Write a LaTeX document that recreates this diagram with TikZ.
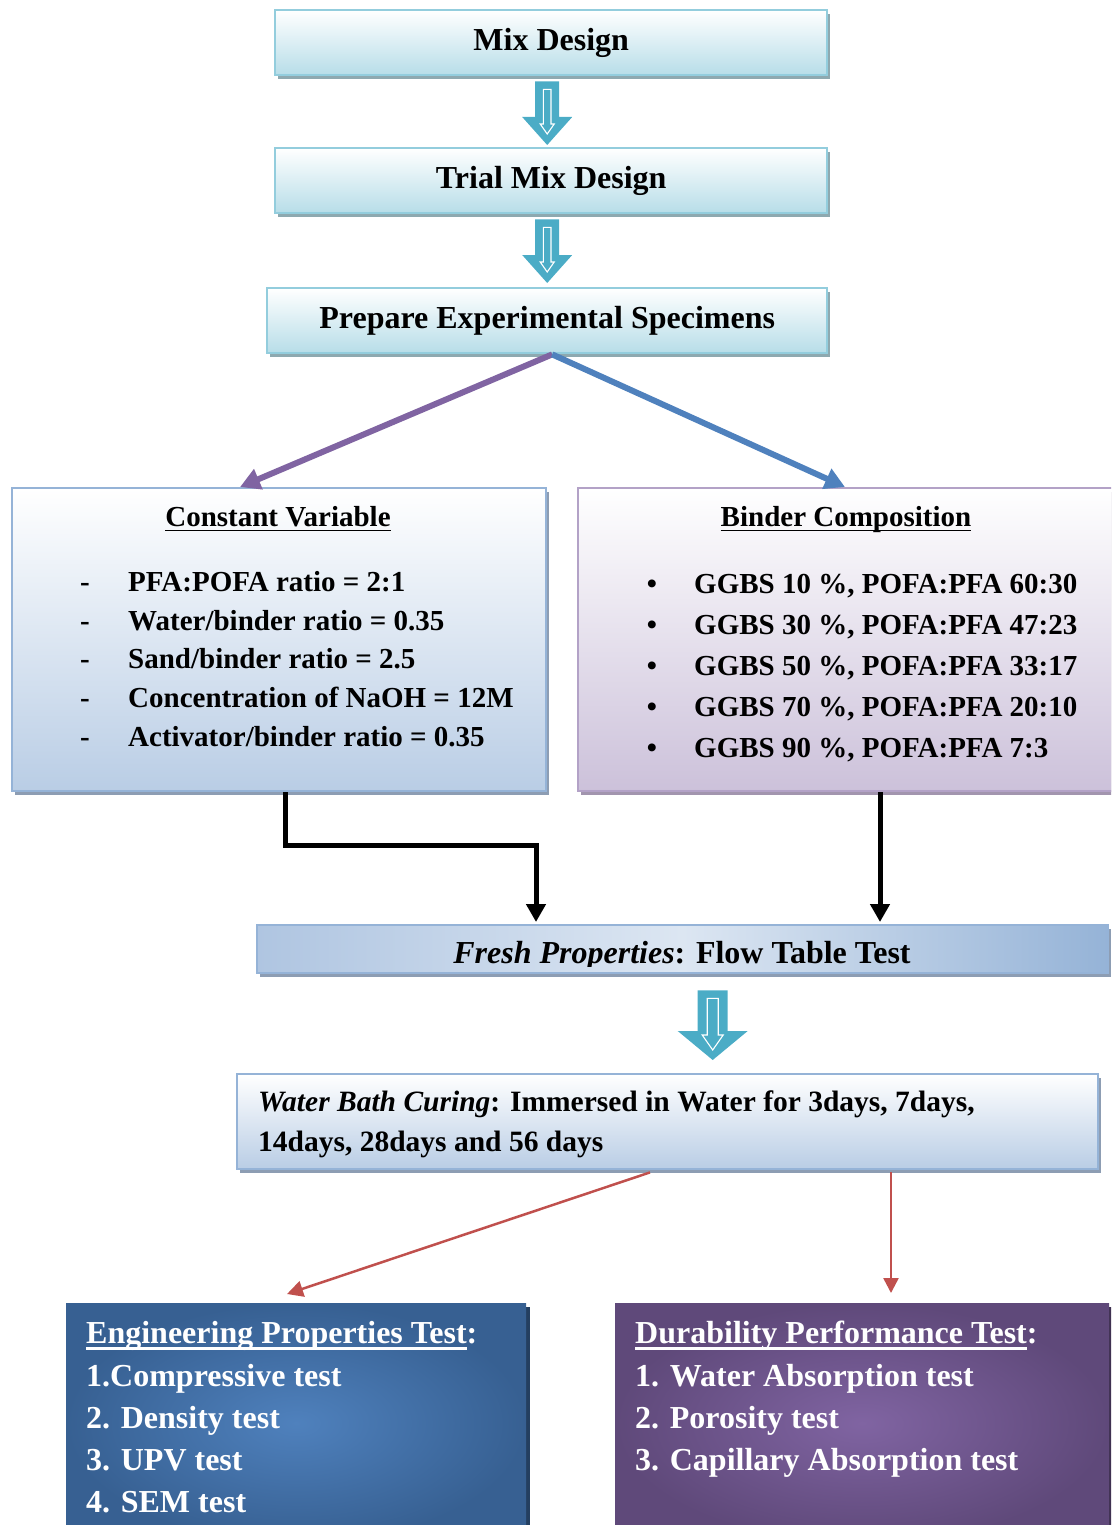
\documentclass[tikz,border=0pt]{standalone}
\usepackage{fontspec}
\setmainfont{Liberation Serif}
\usetikzlibrary{calc,shadows,arrows.meta}

\definecolor{tealline}{HTML}{93CDDD}
\definecolor{tealfill}{HTML}{B7DDE8}
\definecolor{tealshadow}{HTML}{8EA9B0}
\definecolor{blueline}{HTML}{95B3D7}
\definecolor{bluefill}{HTML}{B9CDE5}
\definecolor{blueshadow}{HTML}{8D9DB3}
\definecolor{lilacline}{HTML}{B3A2C7}
\definecolor{lilacfill}{HTML}{CCC1DA}
\definecolor{lilacshadow}{HTML}{A295AE}
\definecolor{arrowteal}{HTML}{4BACC6}
\definecolor{linkpurple}{HTML}{8064A2}
\definecolor{linkblue}{HTML}{4F81BD}
\definecolor{linkred}{HTML}{C0504D}
\definecolor{engedge}{HTML}{376092}
\definecolor{engmid}{HTML}{4F81BD}
\definecolor{engshadow}{HTML}{243F60}
\definecolor{duredge}{HTML}{5F497A}
\definecolor{durmid}{HTML}{8064A2}
\definecolor{durshadow}{HTML}{3F3151}
\definecolor{freshlight}{HTML}{DCE6F2}
\definecolor{freshedge}{HTML}{AFC5E1}

% underline bar at a fixed distance below the baseline
\newcommand{\ulbar}[3]{\setbox0=\hbox{#3}\rlap{\vrule height -#1 depth #2 width \wd0}\box0}

% hollow block arrow: start, tip, shaft half-width, head half-width, head length,
% inner shaft half-width, inner head half-width, inner head offset, inner tip offset
\newcommand{\blockarrow}[9]{%
  \fill[arrowteal] ($(#1)+(-#3,0)$) -- ($(#1)+(#3,0)$) -- ($(#2)+(#3,-#5)$)
    -- ($(#2)+(#4,-#5)$) -- (#2) -- ($(#2)+(-#4,-#5)$) -- ($(#2)+(-#3,-#5)$) -- cycle;
  \draw[white, line width=1.1pt] ($(#1)+(-#6,8)$) -- ($(#1)+(#6,8)$) -- ($(#2)+(#6,-#8)$)
    -- ($(#2)+(#7,-#8)$) -- ($(#2)+(0,-#9)$) -- ($(#2)+(-#7,-#8)$) -- ($(#2)+(-#6,-#8)$) -- cycle;
}

\begin{document}
\begin{tikzpicture}[x=1pt,y=-1pt,
  every node/.style={inner sep=0pt},
  shadowed/.style={general shadow={fill=#1, shadow xshift=3pt, shadow yshift=-4pt}},
  stagebox/.style={draw=tealline, line width=2.4pt, top color=white, bottom color=tealfill,
    shadowed=tealshadow, anchor=north west, minimum height=65pt,
    font=\fontsize{32}{38}\selectfont\bfseries, text height=22pt, text depth=7pt},
  bluebox/.style={draw=blueline, line width=2.4pt, top color=white, bottom color=bluefill,
    shadowed=blueshadow, anchor=north west},
  lilacbox/.style={draw=lilacline, line width=2.4pt, top color=white, bottom color=lilacfill,
    shadowed=lilacshadow, anchor=north west},
  freshbox/.style={draw=blueline, line width=2.4pt, left color=freshedge,
    right color=blueline, middle color=freshlight, shadowed=blueshadow, anchor=north west},
  testbox/.style={anchor=north west, general shadow={fill=#1, shadow xshift=4pt, shadow yshift=-4pt}},
  item/.style={anchor=base west, font=\fontsize{29}{35}\selectfont\bfseries},
  bigitem/.style={anchor=base west, text=white, font=\fontsize{32}{38}\selectfont\bfseries},
  fanlink/.style={line width=6pt, -{Triangle[length=20pt,width=21pt]}},
  blacklink/.style={line width=5pt, line join=miter, -{Triangle[length=18pt,width=19pt]}},
  redlink/.style={draw=linkred, line width=2.5pt, -{Triangle[length=16pt,width=16pt]}}
]
\useasboundingbox (0,0) rectangle (1111,1525);
\clip (0,0) rectangle (1111,1525);

% ---- process stages ----
\node[stagebox, minimum width=552pt] (mix) at (274,9) {Mix Design};
\node[stagebox, minimum width=552pt] (trial) at (274,147) {Trial Mix Design};
\node[stagebox, minimum width=560pt] (prep) at (266,287) {Prepare Experimental Specimens};

\coordinate (a1s) at ($(mix.south)+(-4,5)$);
\coordinate (a1e) at ($(trial.north)+(-4,-2)$);
\blockarrow{a1s}{a1e}{12}{25}{28}{3.8}{7}{21}{11}
\coordinate (a2s) at ($(trial.south)+(-4,5)$);
\coordinate (a2e) at ($(prep.north)+(0,-4)$);
\blockarrow{a2s}{a2e}{12}{25}{28}{3.8}{7}{21}{11}

% ---- the two parameter boxes ----
\node[bluebox, minimum width=534pt, minimum height=303pt] (cv) at (11,487) {};
\node[lilacbox, minimum width=560pt, minimum height=303pt] (bc) at (577,487) {};

\draw[fanlink, draw=linkpurple, linkpurple] ([xshift=5pt]prep.south) -- ([xshift=229pt]cv.north west);
\draw[fanlink, draw=linkblue, linkblue] ([xshift=5pt]prep.south) -- ([xshift=268pt]bc.north west);

\node[item, anchor=base] (cvtitle) at (278,526) {\ulbar{3.5pt}{5pt}{Constant Variable}};
\node[item, anchor=base] (cvd1) at (85,591) {-};
\node[item] (cv1) at (128,591) {PFA:POFA ratio = 2:1};
\node[item, anchor=base] (cvd2) at (85,630) {-};
\node[item] (cv2) at (128,630) {Water/binder ratio = 0.35};
\node[item, anchor=base] (cvd3) at (85,668) {-};
\node[item] (cv3) at (128,668) {Sand/binder ratio = 2.5};
\node[item, anchor=base] (cvd4) at (85,707) {-};
\node[item] (cv4) at (128,707) {Concentration of NaOH = 12M};
\node[item, anchor=base] (cvd5) at (85,746) {-};
\node[item] (cv5) at (128,746) {Activator/binder ratio = 0.35};

\node[item, anchor=base] (bctitle) at (846,526) {\ulbar{3.5pt}{5pt}{Binder Composition}};
\node[item, anchor=base] (bcb1) at (652,593) {\textbullet};
\node[item] (bc1) at (694,593) {GGBS 10 \%, POFA:PFA 60:30};
\node[item, anchor=base] (bcb2) at (652,634) {\textbullet};
\node[item] (bc2) at (694,634) {GGBS 30 \%, POFA:PFA 47:23};
\node[item, anchor=base] (bcb3) at (652,675) {\textbullet};
\node[item] (bc3) at (694,675) {GGBS 50 \%, POFA:PFA 33:17};
\node[item, anchor=base] (bcb4) at (652,716) {\textbullet};
\node[item] (bc4) at (694,716) {GGBS 70 \%, POFA:PFA 20:10};
\node[item, anchor=base] (bcb5) at (652,757) {\textbullet};
\node[item] (bc5) at (694,757) {GGBS 90 \%, POFA:PFA 7:3};

% ---- fresh properties ----
\node[freshbox, minimum width=851pt, minimum height=48pt] (fresh) at (256,924) {};
\begin{scope}
  \clip (fresh.north west) rectangle ([yshift=8pt]fresh.south east);
  \node[item, anchor=base, font=\fontsize{32}{38}\selectfont\bfseries] (freshtxt) at (682,963)
    {\textit{Fresh Properties}: Flow Table Test};
\end{scope}

\coordinate (cvout) at ([xshift=274pt]cv.south west);
\coordinate (bcout) at ([xshift=303pt]bc.south west);
\draw[blacklink] (cvout) -- ++(0,53) -| ([xshift=280pt,yshift=2pt]fresh.north west);
\draw[blacklink] (bcout) -- ([yshift=2pt]bcout |- fresh.north);

% ---- curing ----
\node[bluebox, minimum width=861pt, minimum height=95pt] (water) at (236,1073) {};
\node[item, font=\fontsize{29.5}{35}\selectfont\bfseries] (wb1) at (258,1111)
  {\textit{Water Bath Curing}: Immersed in Water for 3days, 7days,};
\node[item, font=\fontsize{29.5}{35}\selectfont\bfseries] (wb2) at (258,1151)
  {14days, 28days and 56 days};

\coordinate (a3s) at ($(fresh.south)+(30,16)$);
\coordinate (a3e) at ($(water.north)+(45,-13)$);
\blockarrow{a3s}{a3e}{15}{35}{29}{5.5}{10.5}{25}{10}

% ---- tests ----
\node[testbox=engshadow, minimum width=460pt, minimum height=240pt, inner color=engmid, outer color=engedge] (eng) at (66,1303) {};
\node[testbox=durshadow, minimum width=494pt, minimum height=240pt, inner color=durmid, outer color=duredge] (dur) at (615,1303) {};

\coordinate (wout) at ([xshift=655pt,yshift=-2pt]water.south west);
\draw[redlink] ([xshift=414pt,yshift=-2pt]water.south west) -- ([xshift=221pt,yshift=9pt]eng.north west);
\draw[redlink, -{Triangle[length=15pt,width=15pt]}] (wout) -- ([yshift=10pt]wout |- dur.north);

\node[bigitem] (eng0) at (86,1343) {\ulbar{4pt}{7pt}{Engineering Properties Test}:};
\node[bigitem] (eng1) at (86,1386) {1.Compressive test};
\node[bigitem] (eng2) at (86,1428) {2. Density test};
\node[bigitem] (eng3) at (86,1470) {3. UPV test};
\node[bigitem] (eng4) at (86,1512) {4. SEM test};

\node[bigitem] (dur0) at (635,1343) {\ulbar{4pt}{7pt}{Durability Performance Test}:};
\node[bigitem] (dur1) at (635,1386) {1. Water Absorption test};
\node[bigitem] (dur2) at (635,1428) {2. Porosity test};
\node[bigitem] (dur3) at (635,1470) {3. Capillary Absorption test};
\end{tikzpicture}
\end{document}
